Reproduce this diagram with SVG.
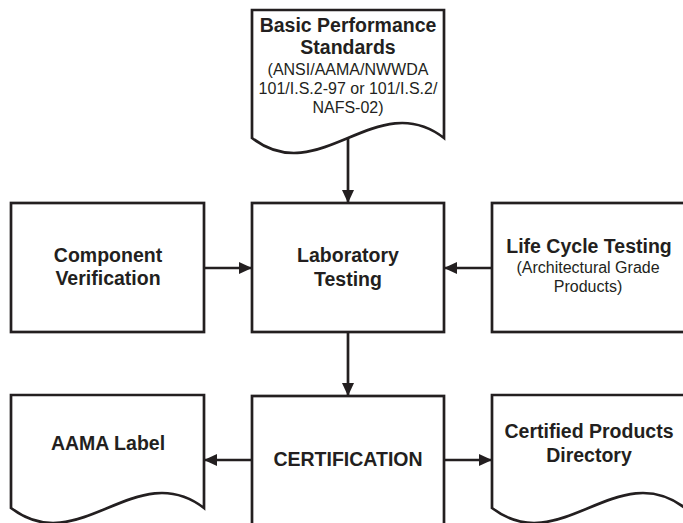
<svg xmlns="http://www.w3.org/2000/svg" width="683" height="523" viewBox="0 0 683 523">
<defs>
<style>
.shape{fill:#fff;stroke:#231f20;stroke-width:2.7;stroke-linejoin:miter}
.conn{stroke:#231f20;stroke-width:2.7;fill:none}
text{font-family:"Liberation Sans",Arial,sans-serif;fill:#231f20;text-anchor:middle}
.b{font-weight:bold;font-size:19.5px}
.r{font-size:16px}
</style>
<marker id="arr" viewBox="0 0 13 12" refX="13" refY="6" markerWidth="13" markerHeight="12" markerUnits="userSpaceOnUse" orient="auto">
<path d="M0,0 L13,6 L0,12 Z" fill="#231f20"/>
</marker>
</defs>
<rect width="683" height="523" fill="#fff"/>
<g id="connectors">
<line class="conn" x1="348" y1="138" x2="348" y2="203" marker-end="url(#arr)"/>
<line class="conn" x1="204" y1="268" x2="252" y2="268" marker-end="url(#arr)"/>
<line class="conn" x1="492" y1="268" x2="444" y2="268" marker-end="url(#arr)"/>
<line class="conn" x1="348" y1="332" x2="348" y2="396" marker-end="url(#arr)"/>
<line class="conn" x1="252" y1="460" x2="204" y2="460" marker-end="url(#arr)"/>
<line class="conn" x1="444" y1="460" x2="492" y2="460" marker-end="url(#arr)"/>
</g>
<g id="basic-performance">
<path class="shape" d="M252,138 L252,10 L444,10 L444,138 C376.8,86 319.2,190 252,138 Z"/>
<text class="b" x="348" y="32">Basic Performance</text>
<text class="b" x="348" y="54">Standards</text>
<text class="r" x="348" y="75">(ANSI/AAMA/NWWDA</text>
<text class="r" x="348" y="94">101/I.S.2-97 or 101/I.S.2/</text>
<text class="r" x="348" y="113">NAFS-02)</text>
</g>
<g id="component-verification">
<rect class="shape" x="11" y="203" width="193" height="129"/>
<text class="b" x="108" y="262">Component</text>
<text class="b" x="108" y="285">Verification</text>
</g>
<g id="laboratory-testing">
<rect class="shape" x="252" y="203" width="192" height="129"/>
<text class="b" x="348" y="262">Laboratory</text>
<text class="b" x="348" y="286">Testing</text>
</g>
<g id="life-cycle-testing">
<rect class="shape" x="492" y="203" width="193" height="129"/>
<text class="b" x="589" y="253">Life Cycle Testing</text>
<text class="r" x="588" y="273">(Architectural Grade</text>
<text class="r" x="588" y="292">Products)</text>
</g>
<g id="aama-label">
<path class="shape" d="M11,508 L11,395 L204,395 L204,508 C136.5,456 78.5,560 11,508 Z"/>
<text class="b" x="108" y="450">AAMA Label</text>
</g>
<g id="certification">
<rect class="shape" x="252" y="396" width="192" height="140"/>
<text class="b" x="348" y="466">CERTIFICATION</text>
</g>
<g id="certified-products-directory">
<path class="shape" d="M492,508 L492,395 L685,395 L685,508 C617.5,456 559.5,560 492,508 Z"/>
<text class="b" x="589" y="438">Certified Products</text>
<text class="b" x="589" y="462">Directory</text>
</g>
</svg>
